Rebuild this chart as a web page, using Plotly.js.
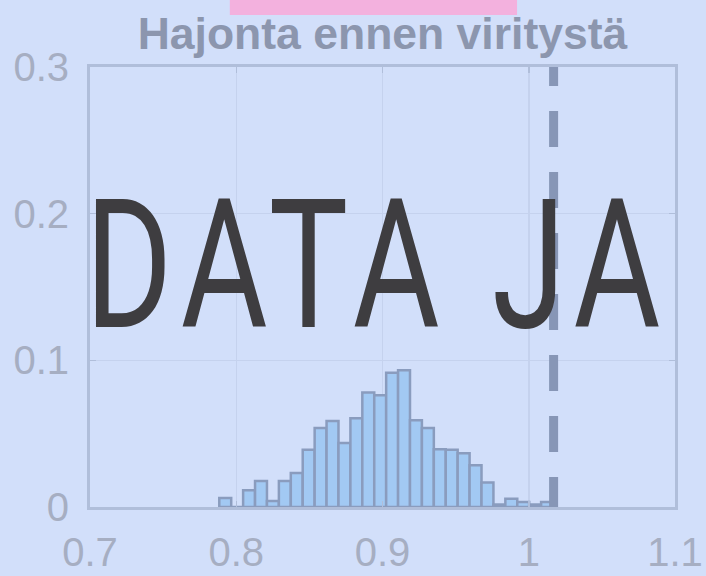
<!DOCTYPE html>
<html>
<head>
<meta charset="utf-8">
<script src="https://cdn.plot.ly/plotly-3.0.1.min.js"></script>
<style>
  html, body { margin: 0; padding: 0; background: #d2dffa; }
  #chart { width: 706px; height: 576px; }
</style>
</head>
<body>
<div id="chart"></div>
<script>
// Histogram bins (left edge of first bin, bin width) and bar heights (relative frequency)
const binStart = 0.7884;
const binWidth = 0.00815;
const binHeights = [0.0062, 0, 0.0114, 0.0177, 0.0041, 0.0177, 0.0232, 0.0390, 0.0538, 0.0587,
                    0.0437, 0.0605, 0.0780, 0.0762, 0.0916, 0.0932, 0.0591, 0.0538, 0.0393, 0.0390,
                    0.0366, 0.0284, 0.0167, 0.0017, 0.0057, 0.0034, 0.0017, 0.0034];
const threshold = 1.017;   // dashed reference line
const xTickVals = [0.7, 0.8, 0.9, 1.0, 1.1];
const xTickText = ["0.7", "0.8", "0.9", "1", "1.1"];
const yTickVals = [0, 0.1, 0.2, 0.3];
const yTickText = ["0", "0.1", "0.2", "0.3"];
const chartTitle = "Hajonta ennen viritystä";
const overlayText = "DATA JA ANALYTIIKKA";

const binCenters = binHeights.map((_, i) => binStart + binWidth * (i + 0.5));

const bg = "rgb(210,223,250)";
const axisCol = "rgb(176,190,218)";
const tickFontCol = "rgb(166,174,194)";

const trace = {
  type: "bar",
  x: binCenters,
  y: binHeights,
  width: binWidth,
  marker: { color: "rgb(162,201,243)", line: { color: "rgb(138,156,190)", width: 2.5 } },
  hoverinfo: "none"
};

const layout = {
  width: 706, height: 576,
  margin: { l: 90, r: 31, t: 67, b: 69 },
  paper_bgcolor: bg, plot_bgcolor: bg,
  showlegend: false,
  bargap: 0,
  title: {
    text: "<b>" + chartTitle + "</b>",
    font: { family: "Liberation Sans, Arial, sans-serif", size: 44.5, color: "rgb(140,150,174)" },
    x: 0.5, xref: "paper", xanchor: "center",
    y: 1 - 33 / 576, yref: "container", yanchor: "middle"
  },
  xaxis: {
    range: [0.7, 1.1],
    tickvals: xTickVals, ticktext: xTickText,
    showline: true, mirror: "ticks", linecolor: axisCol, linewidth: 3,
    showgrid: true, gridcolor: "rgb(197,210,238)", gridwidth: 1.5,
    ticks: "inside", ticklen: 6, tickcolor: axisCol, tickwidth: 1.5,
    zeroline: false,
    tickfont: { family: "Liberation Sans, Arial, sans-serif", size: 40, color: tickFontCol },
    ticklabelstandoff: 8
  },
  yaxis: {
    range: [0, 0.3],
    tickvals: yTickVals, ticktext: yTickText,
    showline: true, mirror: "ticks", linecolor: axisCol, linewidth: 3,
    showgrid: true, gridcolor: "rgb(197,210,238)", gridwidth: 1.5,
    ticks: "inside", ticklen: 6, tickcolor: axisCol, tickwidth: 1.5,
    zeroline: false,
    tickfont: { family: "Liberation Sans, Arial, sans-serif", size: 40, color: tickFontCol },
    ticklabelstandoff: 10
  },
  shapes: [
    { type: "line", xref: "x", yref: "paper", x0: threshold, x1: threshold, y0: 0, y1: 1,
      line: { color: "rgb(135,150,182)", width: 9, dash: "36px,25px" }, layer: "above" },
    { type: "rect", xref: "paper", yref: "paper", x0: 0.239, x1: 0.73, y0: 1.118, y1: 1.3,
      fillcolor: "rgb(243,177,222)", line: { width: 0 }, layer: "above" }
  ],
  annotations: [
    { text: overlayText, xref: "paper", yref: "paper", x: -0.012, y: 0.548,
      xanchor: "left", yanchor: "middle", align: "left", showarrow: false,
      font: { family: "Roboto, DejaVu Sans, sans-serif", size: 180, weight: 400, color: "rgb(62,61,64)" } }
  ]
};

Plotly.newPlot("chart", [trace], layout, { staticPlot: true, displayModeBar: false }).then(() => {
  // condense the overlay headline horizontally (narrow typeface look) with wider tracking
  document.querySelectorAll("text.annotation-text").forEach(t => {
    const bb = t.getBBox();
    t.setAttribute("text-anchor", "start");
    t.style.letterSpacing = "13px";
    t.setAttribute("transform", `translate(${bb.x},0) scale(0.74,1) translate(${-bb.x},0)`);
  });
  // dash phase of the reference line
  document.querySelectorAll(".shapelayer path").forEach(p => {
    if (p.style.strokeDasharray && p.style.strokeDasharray !== "none") p.style.strokeDashoffset = "6px";
  });
});
</script>
</body>
</html>
